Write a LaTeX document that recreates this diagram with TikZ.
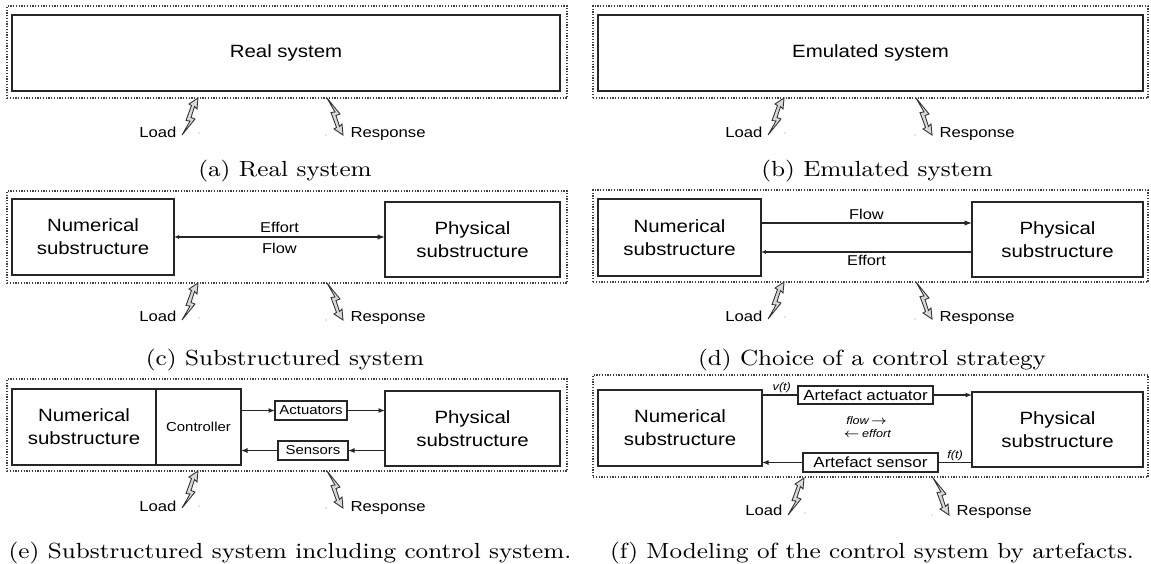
\documentclass[tikz,border=0pt]{standalone}
\usepackage{fontspec}
\newfontfamily\diagfont[FakeStretch=1.15]{Liberation Sans}
\newfontfamily\capfont[FakeStretch=1.12]{Latin Modern Roman}
\usetikzlibrary{arrows.meta}
\newcommand\PX{0.4pt}
% [#1 style]{#2 name}{#3 x1}{#4 y1}{#5 x2}{#6 y2}{#7 text}
\newcommand\mkbox[7][]{\node[box,#1,anchor=north west,minimum width={(#5-#3)*\PX},minimum height={(#6-#4)*\PX}] (#2) at (#3,#4) {#7};}
% {#1 prefix}{#2 #3 load tip}{#4 #5 response tip}{#6 baseline}
\newcommand\loadresp[6]{%
  \coordinate (#1Lt) at (#2,#3);
  \coordinate (#1Rt) at (#4,#5);
  \pic at (#1Lt) {bolt};
  \pic[yscale=-1] at (#1Rt) {bolt};
  \node[lbl,anchor=base east] (#1L) at (#2-21,#6) {Load};
  \node[lbl,anchor=base west] (#1R) at (#4+7,#6) {Response};
  \fill[dotc] (#2+1,#3+35) circle[radius=0.6];
  \fill[dotc] (#4-17,#5) circle[radius=0.6];
}
\begin{document}
\begin{tikzpicture}[x=0.4pt,y=-0.4pt,
  box/.style={draw=black!85,line width=0.5pt,inner sep=0pt,outer sep=0pt,align=center},
  frame/.style={draw=black!75,line width=0.45pt,dash pattern=on 0.5pt off 0.6pt},
  big/.style={font=\diagfont\fontsize{7.1}{9.2}\selectfont},
  small/.style={font=\diagfont\fontsize{5.2}{6.5}\selectfont},
  art/.style={font=\diagfont\fontsize{5.9}{7}\selectfont},
  lbl/.style={font=\diagfont\fontsize{5.8}{7}\selectfont,inner sep=0pt},
  midlbl/.style={font=\diagfont\fontsize{5.7}{7}\selectfont},
  itl/.style={font=\diagfont\itshape\fontsize{4.4}{5.5}\selectfont,inner sep=0.6pt},
  captxt/.style={font=\capfont\fontsize{8.75}{10.5}\selectfont,inner sep=0pt},
  conn/.style={draw=black!85,line width=0.45pt},
  tipL/.style={-{Latex[length=3pt,width=2.2pt]}},
  tipM/.style={-{Latex[length=2.6pt,width=2pt]}},
  tipS/.style={-{Latex[length=2pt,width=1.6pt]}},
  dotc/.style={fill=black!45},
  boltstyle/.style={fill=black!15,draw=black!80,line width=0.35pt,line join=miter},
  bolt/.pic={\filldraw[boltstyle] (0,0) -- (-1,11) -- (-3.5,8.5) -- (-7,19.5) -- (-3,21) -- (-16,37) -- (-8,23) -- (-12,22.5) -- (-6.5,7.5) -- (-9,6) -- cycle;}
]
\useasboundingbox (0,0) rectangle (1151,563);

% ---------- (a)
\mkbox[frame]{aF}{7}{6}{567}{98}{}
\mkbox[big]{aS}{12}{15}{560}{91}{Real system}
\loadresp{a}{198}{98}{343}{135}{137.5}
\node[captxt,anchor=base] (capA) at (285,176.5) {(a) Real system};

% ---------- (b)
\mkbox[frame]{bF}{593}{6}{1148}{98}{}
\mkbox[big]{bS}{598}{15}{1143}{91}{Emulated system}
\loadresp{b}{784}{98}{932}{135}{137.5}
\node[captxt,anchor=base] (capB) at (877,176.5) {(b) Emulated system};

% ---------- (c)
\mkbox[frame]{cF}{7}{191}{567}{283}{}
\mkbox[big]{cN}{12}{199}{174}{275}{Numerical\\substructure}
\mkbox[big]{cP}{385}{202}{560}{277}{Physical\\substructure}
\draw[conn,{Latex[length=2pt,width=1.6pt]}-{Latex[length=3pt,width=2.2pt]}] (cN.east) -- (cN.east -| cP.west)
  node[pos=.5,above,midlbl,inner sep=1.6pt] {Effort}
  node[pos=.5,below,midlbl,inner sep=2.4pt] {Flow};
\loadresp{c}{198}{283}{343}{320}{321.7}
\node[captxt,anchor=base] (capC) at (285,365) {(c) Substructured system};

% ---------- (d)
\mkbox[frame]{dF}{593}{190}{1148}{282}{}
\mkbox[big]{dN}{598}{199}{761}{276}{Numerical\\substructure}
\mkbox[big]{dP}{972}{202}{1143}{277}{Physical\\substructure}
\draw[conn,tipL] ([yshift=5.8pt]dN.east) -- ([yshift=5.8pt]dN.east -| dP.west)
  node[midway,above,midlbl,inner sep=1.2pt] {Flow};
\draw[conn,tipS] ([yshift=-5.8pt]dN.east -| dP.west) -- ([yshift=-5.8pt]dN.east)
  node[midway,below,midlbl,inner sep=1.2pt] {Effort};
\loadresp{d}{784}{282}{932}{319}{321.7}
\node[captxt,anchor=base] (capD) at (872,365) {(d) Choice of a control strategy};

% ---------- (e)
\mkbox[frame]{eF}{7}{379}{567}{471}{}
\mkbox[big]{eN}{12}{389}{156}{465}{Numerical\\substructure}
\mkbox[small]{eC}{156}{389}{241}{465}{Controller}
\mkbox[small]{eA}{275}{401}{347}{420}{Actuators}
\mkbox[small]{eS}{278}{441}{348}{460}{Sensors}
\mkbox[big]{eP}{385}{391}{560}{466}{Physical\\substructure}
\draw[conn,tipM] (eA.west -| eC.east) -- (eA.west);
\draw[conn,tipM] (eA.east) -- (eA.east -| eP.west);
\draw[conn,tipM] (eS.east -| eP.west) -- (eS.east);
\draw[conn,tipM] (eS.west) -- (eS.west -| eC.east);
\loadresp{e}{198}{471}{343}{508}{511}
\node[captxt,anchor=base] (capE) at (290,558) {(e) Substructured system including control system.};

% ---------- (f)
\mkbox[frame]{fF}{593}{375}{1148}{477}{}
\mkbox[big]{fN}{598}{390}{762}{466}{Numerical\\substructure}
\mkbox[big]{fP}{972}{392}{1143}{467}{Physical\\substructure}
\mkbox[art]{fA}{798}{386}{933}{404}{Artefact actuator}
\mkbox[art]{fS}{803}{453}{938}{472}{Artefact sensor}
\draw[conn] (fA.west -| fN.east) -- (fA.west) node[pos=.55,above,itl] {v(t)};
\draw[conn,tipM] (fA.east) -- (fA.east -| fP.west);
\draw[conn] (fS.east -| fP.west) -- (fS.east) node[midway,above,itl] {f(t)};
\draw[conn,tipM] (fS.west) -- (fS.west -| fN.east);
\node[itl] (fFlow) at (867,421) {flow\,$\rightarrow$};
\node[itl] (fEff) at (867,434) {$\leftarrow$\,effort};
\loadresp{f}{804}{478}{949}{515}{515.7}
\node[captxt,anchor=base] (capF) at (872,558) {(f) Modeling of the control system by artefacts.};
\end{tikzpicture}
\end{document}
